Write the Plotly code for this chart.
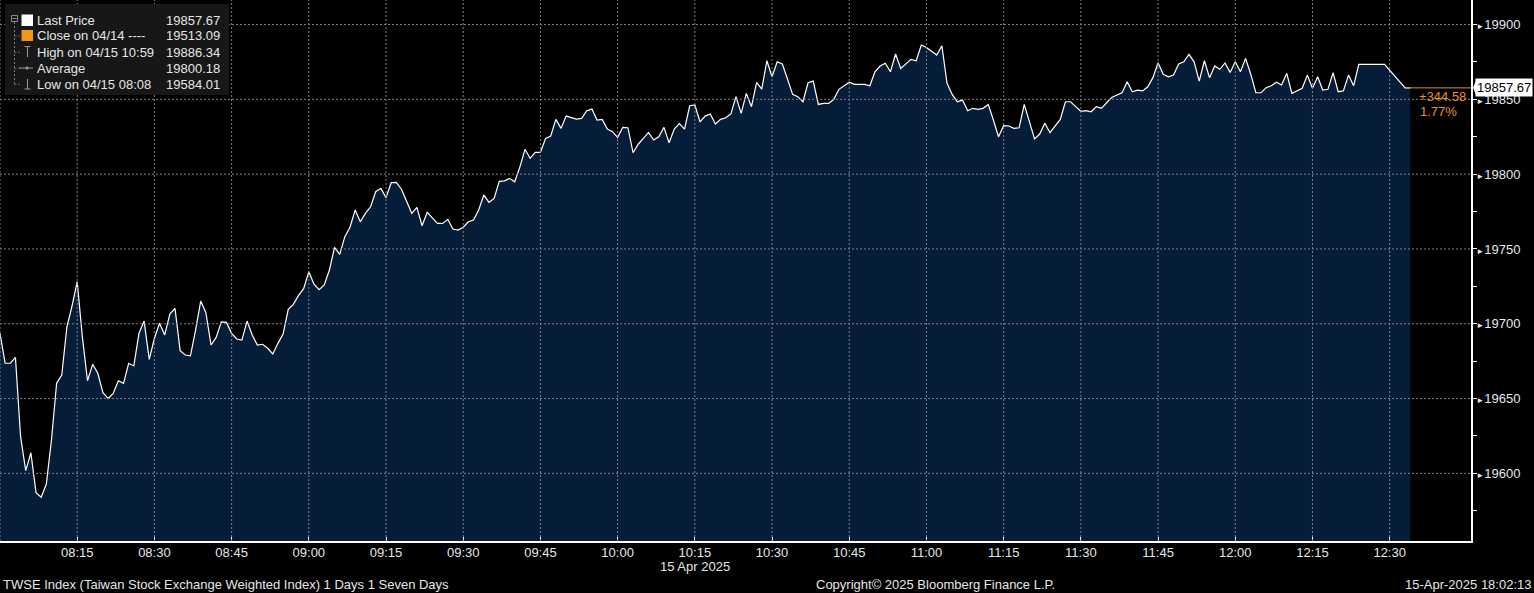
import plotly.graph_objects as go
import pandas as pd

# ---------------- data ----------------
TRADE_DATE = "2025-04-15"

# one-minute prints, 08:00 - 08:59
prices_08h = [
    19693.6, 19673.6, 19673.6, 19677.6, 19624.5, 19601.8, 19613.8, 19587.1, 19584.0, 19592.9,
    19622.3, 19660.2, 19665.7, 19698.0, 19712.0, 19728.1, 19691.4, 19661.9, 19672.9, 19666.9,
    19653.9, 19650.1, 19653.5, 19661.9, 19660.2, 19673.6, 19671.8, 19693.6, 19701.8, 19676.2,
    19690.3, 19700.3, 19692.5, 19706.5, 19710.3, 19682.0, 19679.1, 19678.6, 19695.8, 19715.2,
    19707.4, 19685.8, 19690.9, 19701.3, 19700.9, 19693.6, 19689.8, 19689.1, 19701.8, 19692.5,
    19685.8, 19686.3, 19683.6, 19679.8, 19686.9, 19693.1, 19709.6, 19713.0, 19719.0, 19723.5,
]
# 09:00 - 09:59
prices_09h = [
    19734.8, 19726.5, 19722.8, 19725.9, 19735.9, 19751.1, 19746.4, 19758.2, 19764.5, 19776.0,
    19768.2, 19773.8, 19778.2, 19788.3, 19790.5, 19784.3, 19794.3, 19794.5, 19789.9, 19781.6,
    19773.8, 19777.8, 19765.5, 19774.5, 19770.9, 19767.1, 19767.1, 19769.8, 19763.3, 19762.6,
    19764.5, 19768.2, 19769.3, 19776.0, 19786.1, 19781.2, 19783.8, 19795.2, 19795.5, 19797.2,
    19794.9, 19804.7, 19816.6, 19810.6, 19814.6, 19814.6, 19823.9, 19825.5, 19836.6, 19830.6,
    19838.8, 19837.9, 19836.8, 19837.3, 19842.4, 19843.5, 19836.2, 19836.6, 19830.2, 19828.4,
]
# 10:00 - 10:59
prices_10h = [
    19824.6, 19831.3, 19831.0, 19814.3, 19820.0, 19823.9, 19827.9, 19822.8, 19825.0, 19831.3,
    19821.0, 19830.2, 19833.8, 19830.1, 19845.7, 19846.2, 19835.0, 19838.8, 19840.2, 19833.5,
    19836.6, 19837.7, 19840.2, 19851.8, 19840.6, 19854.0, 19845.1, 19861.4, 19856.9, 19875.8,
    19865.1, 19875.1, 19873.6, 19863.6, 19853.3, 19851.8, 19848.4, 19861.1, 19862.2, 19846.6,
    19847.3, 19847.3, 19850.0, 19856.7, 19859.1, 19861.4, 19860.0, 19860.0, 19860.0, 19859.1,
    19868.4, 19872.3, 19874.1, 19868.4, 19880.3, 19870.7, 19873.4, 19876.7, 19875.8, 19886.34,
]
# 11:00 - 11:59
prices_11h = [
    19884.7, 19882.3, 19879.6, 19885.8, 19860.7, 19853.3, 19848.4, 19849.5, 19842.4, 19844.0,
    19843.3, 19844.0, 19846.6, 19836.2, 19825.0, 19832.4, 19832.2, 19830.6, 19831.0, 19846.6,
    19835.0, 19823.5, 19826.8, 19834.0, 19827.7, 19832.2, 19836.6, 19848.4, 19848.4, 19845.1,
    19842.0, 19842.4, 19841.7, 19845.1, 19844.0, 19847.7, 19851.3, 19852.9, 19854.4, 19861.8,
    19855.1, 19856.2, 19855.6, 19858.4, 19864.5, 19874.5, 19866.7, 19865.1, 19866.2, 19873.6,
    19875.1, 19880.1, 19875.1, 19862.2, 19875.8, 19864.5, 19872.3, 19870.1, 19874.3, 19868.0,
]
# 12:00 - 12:29
prices_12h = [
    19875.1, 19868.4, 19877.4, 19866.8, 19854.4, 19854.4, 19857.8, 19859.1, 19861.4, 19859.6,
    19867.4, 19854.0, 19855.8, 19857.4, 19866.2, 19857.4, 19865.1, 19856.2, 19856.7, 19867.8,
    19855.1, 19855.6, 19866.2, 19859.1, 19873.4, 19873.4, 19873.4, 19873.4, 19873.4, 19873.4,
]
# closing prints
close_times = ["12:33", "12:34"]
close_prices = [19857.67, 19857.67]

# x-axis ticks
x_tick_labels = ["08:15", "08:30", "08:45", "09:00", "09:15", "09:30", "09:45", "10:00",
                 "10:15", "10:30", "10:45", "11:00", "11:15", "11:30", "11:45", "12:00",
                 "12:15", "12:30"]
x_grid_extra = ["08:00"]
y_tick_values = [19600, 19650, 19700, 19750, 19800, 19850, 19900]

# legend / stats
legend_labels = ["Last Price", "Close on 04/14 ----", "High on 04/15 10:59", "Average", "Low on 04/15 08:08"]
legend_values = ["19857.67", "19513.09", "19886.34", "19800.18", "19584.01"]
last_price = 19857.67
net_change = "+344.58"
pct_change = "1.77%"

title_text = "TWSE Index (Taiwan Stock Exchange Weighted Index) 1 Days 1 Seven Days"
copyright_text = "Copyright\u00a9 2025 Bloomberg Finance L.P."
stamp_text = "15-Apr-2025 18:02:13"
date_label = "15 Apr 2025"

# ---------------- build ----------------
session_prices = prices_08h + prices_09h + prices_10h + prices_11h + prices_12h
times = list(pd.date_range(pd.Timestamp(f"{TRADE_DATE} 08:00"), periods=len(session_prices), freq="1min"))
times += [pd.Timestamp(f"{TRADE_DATE} {t}") for t in close_times]
prices = session_prices + close_prices

W, H = 1534, 593
PW, PH = 1471, 541          # plot area in pixels
FONT = "Liberation Sans, Arial, sans-serif"
FS = 13
TXT = "#e6e6e6"
ORANGE = "#ea8d2c"
GRID = "#808080"

x_start = pd.Timestamp(f"{TRADE_DATE} 08:00")
x_end = x_start + pd.Timedelta(minutes=285.8)
y_lo, y_hi = 19554.8, 19916.4

def px(x):
    return x / PW

def py(y):
    return 1 - y / PH

fig = go.Figure()
fig.add_trace(go.Scatter(
    x=times, y=prices, mode="lines",
    line=dict(color="white", width=1.2),
    fill="tozeroy", fillcolor="#061d3a",
    hoverinfo="skip", showlegend=False,
))

tick_times = [pd.Timestamp(f"{TRADE_DATE} {t}") for t in x_tick_labels]

shapes = []
# gridlines above the fill
for t in [pd.Timestamp(f"{TRADE_DATE} {s}") for s in x_grid_extra] + tick_times:
    shapes.append(dict(type="line", xref="x", yref="paper", x0=t, x1=t, y0=0, y1=1,
                       line=dict(color=GRID, width=1, dash="2px,2px"), layer="above"))
for v in y_tick_values:
    shapes.append(dict(type="line", xref="paper", yref="y", x0=0, x1=1, y0=v, y1=v,
                       line=dict(color=GRID, width=1, dash="2px,2px"), layer="above"))

# last price marker line (orange)
shapes.append(dict(type="line", xref="x", yref="y", x0=times[-2], x1=x_end, y0=last_price, y1=last_price,
                   line=dict(color=ORANGE, width=1), layer="above"))
# price tag pointer
shapes.append(dict(type="path", xref="paper", yref="y", xsizemode="pixel", ysizemode="pixel",
                   xanchor=1, yanchor=last_price,
                   path="M 2,0 L 5,7 L 5,-7 Z", fillcolor="white", line=dict(width=0), layer="above"))

# legend box
shapes.append(dict(type="rect", xref="paper", yref="paper", x0=px(5), x1=px(229), y0=py(4), y1=py(95),
                   fillcolor="#171717", line=dict(width=0), layer="above"))
row_y = [20.5, 36, 52.3, 68.3, 84.3]
# squares
shapes.append(dict(type="rect", xref="paper", yref="paper", x0=px(21.5), x1=px(33), y0=py(14.5), y1=py(26),
                   fillcolor="white", line=dict(width=0), layer="above"))
shapes.append(dict(type="rect", xref="paper", yref="paper", x0=px(21.5), x1=px(33), y0=py(30), y1=py(41),
                   fillcolor="#f0961e", line=dict(width=0), layer="above"))
# collapse box
shapes.append(dict(type="rect", xref="paper", yref="paper", x0=px(11.5), x1=px(17.5), y0=py(15.5), y1=py(21.5),
                   line=dict(color="#8a8a8a", width=1), layer="above"))
shapes.append(dict(type="line", xref="paper", yref="paper", x0=px(12.5), x1=px(16.5), y0=py(18.5), y1=py(18.5),
                   line=dict(color="#8a8a8a", width=1), layer="above"))
# tree connector
shapes.append(dict(type="line", xref="paper", yref="paper", x0=px(14.5), x1=px(14.5), y0=py(22), y1=py(84.5),
                   line=dict(color="#777777", width=1, dash="2px,2px"), layer="above"))
for ry in row_y[1:]:
    shapes.append(dict(type="line", xref="paper", yref="paper", x0=px(14.5), x1=px(20), y0=py(ry), y1=py(ry),
                       line=dict(color="#777777", width=1, dash="2px,2px"), layer="above"))
# high symbol (T)
shapes.append(dict(type="line", xref="paper", yref="paper", x0=px(24.5), x1=px(30.5), y0=py(46.5), y1=py(46.5),
                   line=dict(color="#9a9a9a", width=1), layer="above"))
shapes.append(dict(type="line", xref="paper", yref="paper", x0=px(27.5), x1=px(27.5), y0=py(46.5), y1=py(57),
                   line=dict(color="#9a9a9a", width=1), layer="above"))
# average symbol
shapes.append(dict(type="line", xref="paper", yref="paper", x0=px(19), x1=px(33), y0=py(68), y1=py(68),
                   line=dict(color="#9a9a9a", width=1), layer="above"))
shapes.append(dict(type="circle", xref="paper", yref="paper", x0=px(25.5), x1=px(28.5), y0=py(66.5), y1=py(69.5),
                   fillcolor="#9a9a9a", line=dict(width=0), layer="above"))
# low symbol
shapes.append(dict(type="line", xref="paper", yref="paper", x0=px(27.5), x1=px(27.5), y0=py(79), y1=py(89),
                   line=dict(color="#9a9a9a", width=1), layer="above"))
shapes.append(dict(type="line", xref="paper", yref="paper", x0=px(24.5), x1=px(30.5), y0=py(89), y1=py(89),
                   line=dict(color="#9a9a9a", width=1), layer="above"))

annotations = []
for lbl, val, ry in zip(legend_labels, legend_values, row_y):
    annotations.append(dict(text=lbl, xref="paper", yref="paper", x=px(35), y=py(ry), xanchor="left",
                            yanchor="middle", showarrow=False, font=dict(family=FONT, size=FS, color=TXT)))
    annotations.append(dict(text=val, xref="paper", yref="paper", x=px(222), y=py(ry), xanchor="right",
                            yanchor="middle", showarrow=False, font=dict(family=FONT, size=FS, color=TXT)))

# price tag
annotations.append(dict(text=str(last_price), xref="paper", yref="y", x=px(1475), y=last_price,
                        xanchor="left", yanchor="middle", showarrow=False, bgcolor="white", borderpad=1,
                        font=dict(family=FONT, size=FS, color="black")))
annotations.append(dict(text=net_change, xref="paper", yref="paper", x=px(1417), y=py(96.5),
                        xanchor="left", yanchor="middle", showarrow=False,
                        font=dict(family=FONT, size=FS, color=ORANGE)))
annotations.append(dict(text=pct_change, xref="paper", yref="paper", x=px(1417.5), y=py(112),
                        xanchor="left", yanchor="middle", showarrow=False,
                        font=dict(family=FONT, size=FS, color=ORANGE)))

# footer
annotations.append(dict(text=date_label, xref="x", yref="paper", x=tick_times[x_tick_labels.index("10:15")],
                        y=py(566.5), xanchor="center", yanchor="middle", showarrow=False,
                        font=dict(family=FONT, size=FS, color=TXT)))
annotations.append(dict(text=title_text, xref="paper", yref="paper", x=px(1), y=py(584.5),
                        xanchor="left", yanchor="middle", showarrow=False,
                        font=dict(family=FONT, size=FS, color=TXT)))
annotations.append(dict(text=copyright_text, xref="paper", yref="paper", x=px(935), y=py(584.5),
                        xanchor="center", yanchor="middle", showarrow=False,
                        font=dict(family=FONT, size=FS, color=TXT)))
annotations.append(dict(text=stamp_text, xref="paper", yref="paper", x=px(1533), y=py(584.5),
                        xanchor="right", yanchor="middle", showarrow=False,
                        font=dict(family=FONT, size=FS, color=TXT)))

fig.update_layout(
    width=W, height=H,
    margin=dict(l=0, r=W - PW, t=0, b=H - PH, pad=0),
    paper_bgcolor="black", plot_bgcolor="black",
    showlegend=False,
    shapes=shapes, annotations=annotations,
    xaxis=dict(
        type="date", range=[x_start, x_end],
        tickmode="array", tickvals=tick_times, ticktext=x_tick_labels,
        showgrid=False, zeroline=False,
        showline=True, linecolor="white", linewidth=1.5,
        ticks="inside", ticklen=4, tickcolor="white",
        ticklabelstandoff=-1,
        tickfont=dict(family=FONT, size=FS, color=TXT),
        fixedrange=True,
    ),
    yaxis=dict(
        side="right", range=[y_lo, y_hi],
        tickmode="array", tickvals=y_tick_values,
        ticktext=['<span style="font-size:8px">\u25ba</span>' + str(v) for v in y_tick_values],
        showgrid=False, zeroline=False,
        showline=True, linecolor="white", linewidth=1.5,
        ticks="outside", ticklen=4, tickcolor="white",
        ticklabelstandoff=-3,
        minor=dict(tickmode="linear", tick0=19575, dtick=50, ticks="outside", ticklen=4,
                   tickcolor="white", showgrid=False),
        tickfont=dict(family=FONT, size=FS, color=TXT),
        fixedrange=True,
    ),
)

fig.write_html(
    "out.html",
    config={"displayModeBar": False},
    post_script="document.body.style.margin='0px';document.body.style.background='black';",
)
